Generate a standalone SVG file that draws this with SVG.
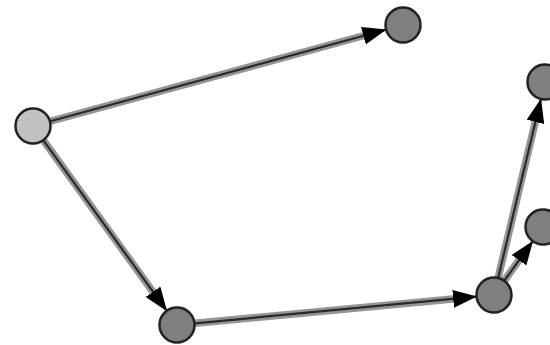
<svg xmlns="http://www.w3.org/2000/svg" width="550" height="345" viewBox="0 0 550 345">
<style>
.edge-o{fill:none;stroke:#959595;stroke-width:7.5}
.edge-i{fill:none;stroke:#2a2a2a;stroke-width:2.2}
.node{stroke:#222;stroke-width:2.5}
.light{fill:#c2c2c2}
.dark{fill:#7f7f7f}
</style>
<defs>
<marker id="arr" viewBox="0 0 24 18" markerWidth="24" markerHeight="18" refX="23" refY="9" orient="auto" markerUnits="userSpaceOnUse">
<path d="M0,0 L24,9 L0,18 z" fill="#000"/>
</marker>
</defs>
<rect width="550" height="345" fill="#fff"/>
<g id="connectors">
<g id="e-ab"><path class="edge-o" d="M49.4,121.5 L368,34.5"/><path class="edge-i" d="M49.4,121.5 L385.6,29.7" marker-end="url(#arr)"/></g>
<g id="e-ac"><path class="edge-o" d="M43,139.8 L156.5,296.7"/><path class="edge-i" d="M43,139.8 L166.5,310.4" marker-end="url(#arr)"/></g>
<g id="e-cd"><path class="edge-o" d="M194.9,323.3 L458,298.4"/><path class="edge-i" d="M194.9,323.3 L476.1,296.7" marker-end="url(#arr)"/></g>
<g id="e-de"><path class="edge-o" d="M498.2,277.5 L536.5,117"/><path class="edge-i" d="M498.2,277.5 L540.8,99.5" marker-end="url(#arr)"/></g>
<g id="e-df"><path class="edge-o" d="M504.5,280.4 L522,256"/><path class="edge-i" d="M504.5,280.4 L532.5,241.6" marker-end="url(#arr)"/></g>
</g>
<g id="nA"><circle class="node light" cx="33" cy="126" r="17.5"/></g>
<g id="nB"><circle class="node dark" cx="403" cy="25" r="17.5"/></g>
<g id="nC"><circle class="node dark" cx="177" cy="325" r="17.5"/></g>
<g id="nD"><circle class="node dark" cx="494" cy="295" r="17.5"/></g>
<g id="nE"><circle class="node dark" cx="545" cy="82" r="17.5"/></g>
<g id="nF"><circle class="node dark" cx="543" cy="227" r="17.5"/></g>
</svg>
